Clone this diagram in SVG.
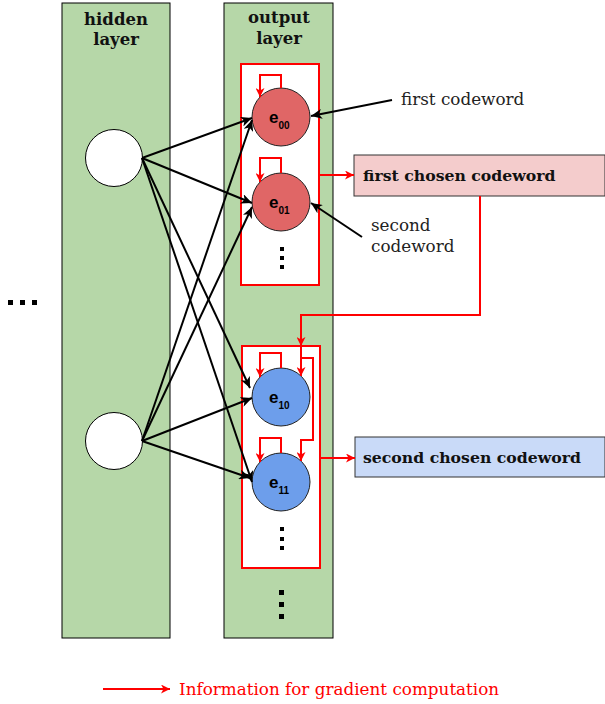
<svg xmlns="http://www.w3.org/2000/svg" width="605" height="704" viewBox="0 0 605 704">
<style>
.layer{fill:#b6d7a8;stroke:#000;stroke-width:1}
.hc{fill:#fff;stroke:#000;stroke-width:1}
.rc{fill:#e06666;stroke:#222;stroke-width:1}
.bc{fill:#6d9eeb;stroke:#222;stroke-width:1}
.rbox{fill:#fff;stroke:#ff0000;stroke-width:2}
.bk{fill:none;stroke:#000;stroke-width:2}
.rd{fill:none;stroke:#ff0000;stroke-width:2}
.lbl{font-family:"DejaVu Serif","Liberation Serif",serif;font-weight:bold;font-size:16.5px;fill:#111;text-anchor:middle}
.ann{font-family:"DejaVu Serif","Liberation Serif",serif;font-size:16.8px;fill:#222}
.cb{font-family:"DejaVu Serif","Liberation Serif",serif;font-weight:bold;font-size:15.7px;fill:#111}
.e{font-family:"Liberation Sans",Arial,sans-serif;font-weight:bold;font-size:17px;fill:#000}
.sub{font-size:10px}
.dot{fill:#000}
</style>
<defs>
<marker id="ab" markerUnits="userSpaceOnUse" markerWidth="12" markerHeight="10" refX="11" refY="5" orient="auto" viewBox="0 0 12 10">
<path d="M0,0 L11,5 L0,10 L3,5 z" fill="#000"/>
</marker>
<marker id="ar" markerUnits="userSpaceOnUse" markerWidth="10" markerHeight="9" refX="9" refY="4.5" orient="auto" viewBox="0 0 10 9">
<path d="M0,0 L9,4.5 L0,9 L2.5,4.5 z" fill="#ff0000"/>
</marker>
</defs>

<g id="hidden-layer">
<rect class="layer" x="62" y="3" width="108" height="635"/>
<text class="lbl" x="116" y="25">hidden</text>
<text class="lbl" x="116" y="45">layer</text>
</g>
<g id="output-layer">
<rect class="layer" x="224" y="3" width="109" height="635"/>
<text class="lbl" x="279" y="23">output</text>
<text class="lbl" x="279" y="44">layer</text>
</g>

<g id="box1"><rect class="rbox" x="241" y="64" width="78" height="221"/></g>
<g id="box2"><rect class="rbox" x="242" y="346" width="78" height="222"/></g>

<g id="h0"><circle class="hc" cx="114" cy="158" r="28.5"/></g>
<g id="h1"><circle class="hc" cx="114" cy="441" r="28.5"/></g>

<g id="e00"><circle class="rc" cx="281" cy="117" r="29"/><text class="e" x="269" y="123">e<tspan class="sub" dy="6">00</tspan></text></g>
<g id="e01"><circle class="rc" cx="281" cy="202" r="29"/><text class="e" x="269" y="208">e<tspan class="sub" dy="6">01</tspan></text></g>
<g id="e10"><circle class="bc" cx="281" cy="397" r="29"/><text class="e" x="269" y="403">e<tspan class="sub" dy="6">10</tspan></text></g>
<g id="e11"><circle class="bc" cx="281" cy="482" r="29"/><text class="e" x="269" y="488">e<tspan class="sub" dy="6">11</tspan></text></g>

<g id="dots">
<rect class="dot" x="280" y="247" width="4" height="4"/>
<rect class="dot" x="280" y="256" width="4" height="4"/>
<rect class="dot" x="280" y="265" width="4" height="4"/>
<rect class="dot" x="280" y="527" width="4" height="4"/>
<rect class="dot" x="280" y="537" width="4" height="4"/>
<rect class="dot" x="280" y="546" width="4" height="4"/>
<rect class="dot" x="279" y="590" width="5" height="5"/>
<rect class="dot" x="279" y="602" width="5" height="5"/>
<rect class="dot" x="279" y="614" width="5" height="5"/>
<rect class="dot" x="8" y="300" width="5" height="5"/>
<rect class="dot" x="20" y="300" width="5" height="5"/>
<rect class="dot" x="32" y="300" width="5" height="5"/>
</g>

<g id="first-chosen">
<rect x="354" y="155" width="251" height="41" fill="#f4cccc" stroke="#333" stroke-width="1"/>
<text class="cb" x="363" y="181">first chosen codeword</text>
</g>
<g id="second-chosen">
<rect x="355" y="437" width="250" height="40" fill="#c9daf8" stroke="#333" stroke-width="1"/>
<text class="cb" x="363" y="463">second chosen codeword</text>
</g>

<g id="annotations">
<text class="ann" x="401" y="105">first codeword</text>
<text class="ann" x="371" y="231">second</text>
<text class="ann" x="371" y="252">codeword</text>
</g>

<g id="legend">
<text class="ann" x="179" y="695" style="fill:#ff0000">Information for gradient computation</text>
</g>

<g id="connectors">
<path class="bk" marker-end="url(#ab)" d="M142,158 L252,118"/>
<path class="bk" marker-end="url(#ab)" d="M142,158 L252,203"/>
<path class="bk" marker-end="url(#ab)" d="M142,158 L250,388"/>
<path class="bk" marker-end="url(#ab)" d="M142,158 L252,482"/>
<path class="bk" marker-end="url(#ab)" d="M142,441 L252,120"/>
<path class="bk" marker-end="url(#ab)" d="M142,441 L252,207"/>
<path class="bk" marker-end="url(#ab)" d="M142,441 L252,398"/>
<path class="bk" marker-end="url(#ab)" d="M142,441 L250,478"/>
<path class="bk" marker-end="url(#ab)" d="M392,100 L311,116"/>
<path class="bk" marker-end="url(#ab)" d="M362,237 L311,203"/>

<path class="rd" marker-end="url(#ar)" d="M281,88 V75 H260 V97"/>
<path class="rd" marker-end="url(#ar)" d="M281,173 V158 H260 V182"/>
<path class="rd" marker-end="url(#ar)" d="M281,368 V353 H260 V377"/>
<path class="rd" marker-end="url(#ar)" d="M281,453 V438 H260 V462"/>
<path class="rd" marker-end="url(#ar)" d="M480,196 V315 H301 V346"/>
<path class="rd" marker-end="url(#ar)" d="M301,346 V376"/>
<path class="rd" marker-end="url(#ar)" d="M301,358 H313 V440 H301 V461"/>
<path class="rd" marker-end="url(#ar)" d="M319,175 H354"/>
<path class="rd" marker-end="url(#ar)" d="M320,458 H355"/>
<path class="rd" stroke-width="2.5" marker-end="url(#ar)" d="M103,689 H170"/>
</g>
</svg>
